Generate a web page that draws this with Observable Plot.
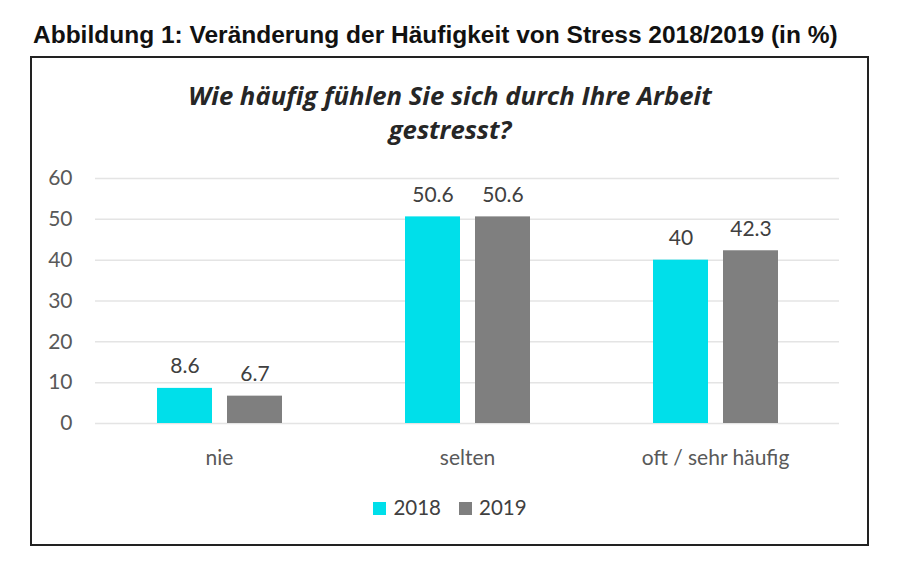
<!DOCTYPE html>
<html><head><meta charset="utf-8">
<script src="https://cdn.jsdelivr.net/npm/d3@7"></script>
<script src="https://cdn.jsdelivr.net/npm/@observablehq/plot@0.6"></script>
<style>
body{margin:0;background:#fff;width:900px;height:569px;position:relative;overflow:hidden;}
#title{position:absolute;left:33px;top:21px;font:bold 24.5px "Liberation Sans",Arial,sans-serif;color:#111;white-space:nowrap;}
#box{position:absolute;left:30px;top:56px;width:835px;height:486px;border:2px solid #222;}
#ctitle{position:absolute;left:0;width:900px;top:79px;text-align:center;font:italic bold 25.7px "Open Sans",sans-serif;color:#262626;line-height:34px;}
#chart{position:absolute;left:0;top:160px;}
#legend{position:absolute;left:0;width:900px;top:495px;text-align:center;font:20.5px Lato,sans-serif;color:#404040;}
#legend span.sw{display:inline-block;width:13px;height:13px;margin-right:7px;vertical-align:0px;}
#legend span.it{margin:0 9px;}
</style></head><body>
<div id="title">Abbildung 1: Veränderung der Häufigkeit von Stress 2018/2019 (in %)</div>
<div id="box"></div>
<div id="ctitle">Wie häufig fühlen Sie sich durch Ihre Arbeit<br>gestresst?</div>
<div id="chart"></div>
<div id="legend"></div>
<script>
const categories = ["nie", "selten", "oft / sehr häufig"];
const years = ["2018", "2019"];
const values2018 = [8.6, 50.6, 40];
const values2019 = [6.7, 50.6, 42.3];
const colors = ["#00DFEA", "#7F7F7F"];
const yTicks = [0, 10, 20, 30, 40, 50, 60];

const data = [];
categories.forEach((c, i) => {
  data.push({cat: c, year: years[0], value: values2018[i]});
  data.push({cat: c, year: years[1], value: values2019[i]});
});

const plot = Plot.plot({
  width: 900,
  height: 320,
  marginLeft: 94,
  marginRight: 60,
  marginTop: 18,
  marginBottom: 57,
  style: {fontFamily: "Lato, sans-serif", fontSize: "21px", color: "#595959", background: "transparent"},
  fx: {domain: categories, padding: 0, label: null, tickSize: 0, tickPadding: 27},
  x: {domain: years, paddingInner: 0.22, paddingOuter: 0.86, axis: null},
  y: {domain: [0, 60], ticks: yTicks, label: null, tickSize: 0, tickPadding: 23},
  color: {domain: years, range: colors},
  marks: [
    Plot.ruleY(yTicks, {stroke: "#e4e4e4", strokeWidth: 1.5}),
    Plot.barY(data, {fx: "cat", x: "year", y: "value", fill: "year"}),
    Plot.text(data, {fx: "cat", x: "year", y: "value", text: d => String(d.value), lineAnchor: "bottom", dy: -15, fill: "#404040", fontSize: 21})
  ]
});
document.getElementById("chart").appendChild(plot);

const lg = document.getElementById("legend");
years.forEach((y, i) => {
  const s = document.createElement("span");
  s.className = "it";
  s.innerHTML = `<span class="sw" style="background:${colors[i]}"></span>${y}`;
  lg.appendChild(s);
});
</script>
</body></html>
